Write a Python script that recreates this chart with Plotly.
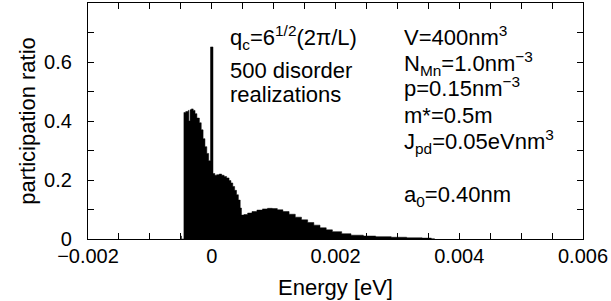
import plotly.graph_objects as go

# ---- data ----
energy = [-0.00050, -0.00049, -0.00045, -0.00042, -0.00038, -0.00037, -0.00035, -0.00033,
          -0.00030, -0.00027, -0.00024, -0.00020, -0.00017, -0.00014, -0.00011, -0.00008,
          -0.00005, -0.00002, 0.00002, 0.00005, 0.00008, 0.00012, 0.00016, 0.00020,
          0.00024, 0.00028, 0.00031, 0.00034, 0.00037, 0.00040, 0.00043, 0.00046,
          0.00048, 0.00052, 0.00058, 0.00065, 0.00073, 0.00082, 0.00090, 0.00098,
          0.00106, 0.00115, 0.00125, 0.00135, 0.00145, 0.00155, 0.00165, 0.00175,
          0.00185, 0.00195, 0.00210, 0.00225, 0.00245, 0.00265, 0.00290, 0.00315,
          0.00340, 0.00355, 0.00360]
participation = [0.010, 0.0, 0.429, 0.432, 0.436, 0.400, 0.438, 0.441,
                 0.436, 0.425, 0.410, 0.394, 0.370, 0.340, 0.313, 0.290,
                 0.265, 0.651, 0.222, 0.216, 0.218, 0.220, 0.216, 0.212,
                 0.207, 0.198, 0.190, 0.178, 0.165, 0.150, 0.132, 0.105,
                 0.081, 0.083, 0.088, 0.093, 0.098, 0.102, 0.104, 0.103,
                 0.099, 0.093, 0.084, 0.074, 0.065, 0.056, 0.047, 0.038,
                 0.031, 0.025, 0.018, 0.013, 0.010, 0.008, 0.006, 0.004,
                 0.003, 0.001, 0.0]

x_ticks = [-0.002 + 0.0005 * i for i in range(17)]
x_tick_labels = {-0.002: "\u22120.002", 0.0: "0", 0.002: "0.002", 0.004: "0.004", 0.006: "0.006"}
y_ticks = [0.1 * i for i in range(8)]
y_tick_labels = {0: "0", 2: "0.2", 4: "0.4", 6: "0.6"}

left_text = ["q<sub>c</sub>=6<sup>1/2</sup>(2\u03c0/L)", "500 disorder", "realizations"]
right_text = ["V=400nm<sup>3</sup>", "N<sub>Mn</sub>=1.0nm<sup>\u22123</sup>",
              "p=0.15nm<sup>\u22123</sup>", "m*=0.5m", "J<sub>pd</sub>=0.05eVnm<sup>3</sup>",
              "a<sub>0</sub>=0.40nm"]

FONT = "Liberation Sans, Arial, Helvetica, sans-serif"

# plot-area pixel geometry
L, R, T, B = 88, 583, 3, 239
def px(xp):
    return (xp - L) / (R - L)
def py(yp):
    return (B - yp) / (B - T)

fig = go.Figure()
fig.add_trace(go.Scatter(
    x=energy, y=participation, mode="lines", line_shape="hv",
    line=dict(color="black", width=0.5), fill="tozeroy", fillcolor="black",
    hoverinfo="skip", showlegend=False))

xt_text = []
for v in x_ticks:
    key = round(v, 4)
    xt_text.append(x_tick_labels.get(key, ""))
yt_text = [y_tick_labels.get(i, "") for i in range(len(y_ticks))]

axis_common = dict(showline=True, linecolor="black", linewidth=1.3, mirror="ticks",
                   ticks="inside", ticklen=6, tickwidth=1, tickcolor="black",
                   showgrid=False, zeroline=False,
                   tickfont=dict(family=FONT, size=20, color="black"))

fig.update_layout(
    width=611, height=301,
    margin=dict(l=L, r=611 - R, t=T, b=301 - B),
    paper_bgcolor="white", plot_bgcolor="white",
    font=dict(family=FONT, color="black"),
    xaxis=dict(range=[-0.002, 0.006], tickmode="array", tickvals=x_ticks, ticktext=xt_text,
               title=dict(text="Energy [eV]", font=dict(family=FONT, size=22), standoff=13),
               ticklabelstandoff=-1, **axis_common),
    yaxis=dict(range=[0, 0.8], tickmode="array", tickvals=y_ticks, ticktext=yt_text,
               title=dict(text="participation ratio", font=dict(family=FONT, size=22), standoff=2),
               ticklabelstandoff=11, **axis_common),
)

left_y = [37.5, 70.5, 94]
for t, yy in zip(left_text, left_y):
    fig.add_annotation(text=t, xref="paper", yref="paper", x=px(228), y=py(yy),
                       xanchor="left", yanchor="middle", showarrow=False,
                       font=dict(family=FONT, size=22, color="black"))

right_y = [36.5, 63, 87, 116, 141, 196]
for t, yy in zip(right_text, right_y):
    fig.add_annotation(text=t, xref="paper", yref="paper", x=px(402), y=py(yy),
                       xanchor="left", yanchor="middle", showarrow=False,
                       font=dict(family=FONT, size=22, color="black"))

fig.write_html("out.html", config={"displayModeBar": False},
               post_script="document.body.style.margin='0';")
